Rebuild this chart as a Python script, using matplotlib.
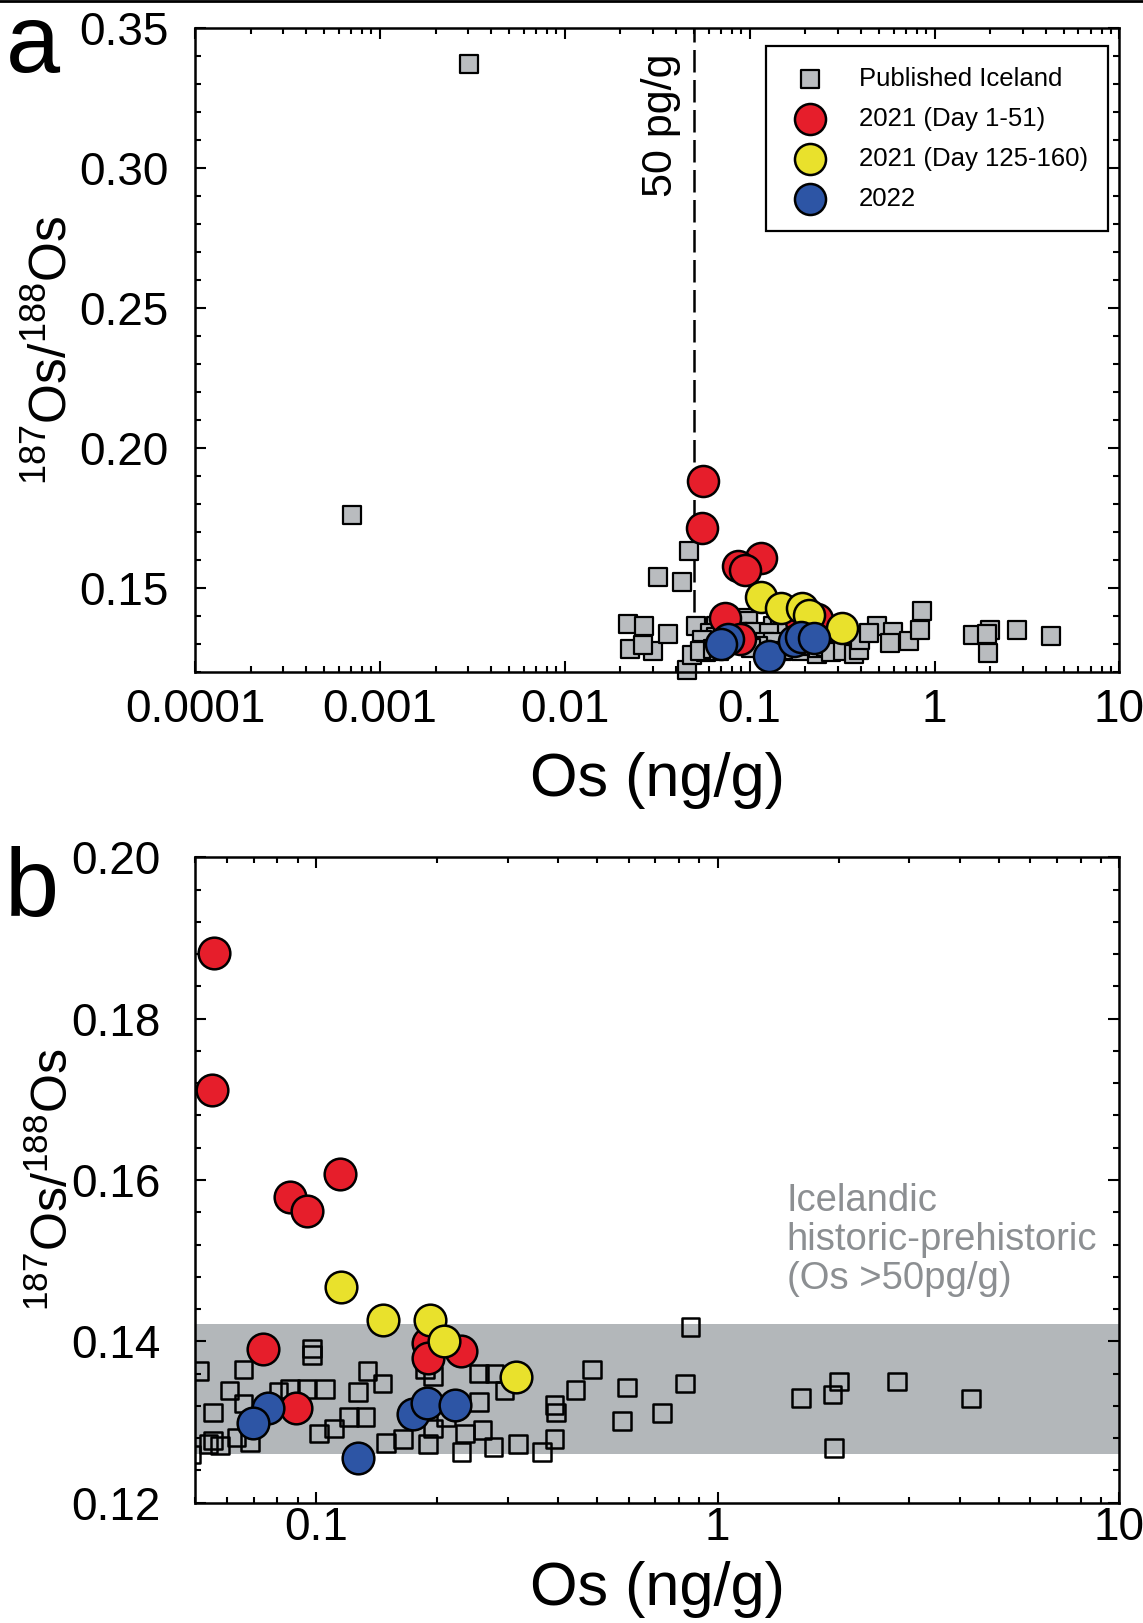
import matplotlib
matplotlib.use("Agg")
import matplotlib.pyplot as plt
from matplotlib.ticker import MultipleLocator, LogLocator, FixedLocator, FixedFormatter, NullFormatter

plt.rcParams['font.family'] = ['Liberation Sans', 'DejaVu Sans']
plt.rcParams['mathtext.fontset'] = 'custom'
plt.rcParams['mathtext.rm'] = 'Liberation Sans'
plt.rcParams['mathtext.it'] = 'Liberation Sans:italic'

# published Iceland data (Os ng/g, 187Os/188Os)
pub_os = [0.00303, 0.000706, 0.047, 0.0320, 0.0429, 0.0219, 0.0268, 0.0225, 0.0301, 0.0265,
          0.036, 0.046, 0.049,
          0.0513, 0.066, 0.0979, 0.0979, 0.1344, 0.1465, 0.0609, 0.066, 0.0554, 0.0862,
          0.0948, 0.1053, 0.1274, 0.0806, 0.1208, 0.1329, 0.111, 0.1019, 0.0554, 0.0577,
          0.0540, 0.0635, 0.0686, 0.1493, 0.1648, 0.1903, 0.1957, 0.1957, 0.1866, 0.2303,
          0.2348, 0.2598, 0.2548, 0.2548, 0.2786, 0.2769, 0.318, 0.3657, 0.3925, 0.3925,
          0.396, 0.2948, 0.211, 0.4873, 0.443, 0.594, 0.577, 0.727, 0.830, 0.855,
          1.612, 2.006, 1.93, 1.95, 2.79, 4.27]
pub_ratio = [0.337, 0.1761, 0.1631, 0.1537, 0.1521, 0.1370, 0.1364, 0.1281, 0.1275, 0.1295,
             0.1334, 0.1207, 0.126,
             0.1363, 0.1365, 0.1391, 0.1383, 0.1363, 0.1348, 0.1339, 0.1323, 0.1312, 0.1341,
             0.1341, 0.1341, 0.1337, 0.1337, 0.1306, 0.1306, 0.1292, 0.1286, 0.1277, 0.1271,
             0.1273, 0.1281, 0.1275, 0.1274, 0.1279, 0.1273, 0.1292, 0.1357, 0.1365, 0.1263,
             0.1286, 0.1290, 0.1325, 0.1360, 0.1360, 0.1269, 0.1273, 0.1263, 0.1279, 0.1321,
             0.1312, 0.1339, 0.1306, 0.1365, 0.1340, 0.1343, 0.1301, 0.1311, 0.1348, 0.1418,
             0.1330, 0.1350, 0.1334, 0.1268, 0.1350, 0.1329]

# 2021 (Day 1-51)
red_os = [0.0559, 0.0552, 0.1147, 0.0862, 0.0948, 0.0740, 0.190, 0.190, 0.2303, 0.0892]
red_ratio = [0.1881, 0.1712, 0.1608, 0.1579, 0.1562, 0.1391, 0.1398, 0.1380, 0.1388, 0.1317]

# 2021 (Day 125-160)
yel_os = [0.1154, 0.147, 0.192, 0.2085, 0.3155]
yel_ratio = [0.1467, 0.1427, 0.1427, 0.1401, 0.1356]

# 2022
blue_os = [0.0761, 0.0697, 0.127, 0.174, 0.189, 0.2225]
blue_ratio = [0.1317, 0.1299, 0.1256, 0.1310, 0.1323, 0.1321]

RED = '#e61e2b'
YEL = '#e9e12c'
BLUE = '#2d55a5'
GRAY = '#b9bcbf'
BAND = '#b3b7ba'

ylab = r'$\mathregular{^{187}Os/^{188}Os}$'


def style(ax):
    for sp in ax.spines.values():
        sp.set_linewidth(1.8)
    ax.tick_params(which='both', direction='in', top=True, right=True, width=1.5, labelsize=33)
    ax.tick_params(which='major', length=8)
    ax.tick_params(which='minor', length=4.5)


fig = plt.figure(figsize=(11.43, 16.23), dpi=100)
fig.add_artist(plt.Line2D([0, 1], [0.9992, 0.9992], transform=fig.transFigure, color='black', lw=2))

# ---- panel a
ax1 = fig.add_axes([0.1706, 0.5861, 0.8088, 0.3968])
ax1.set_xscale('log')
ax1.set_xlim(1e-4, 10)
ax1.set_ylim(0.12, 0.35)
ax1.axvline(0.05, color='black', lw=1.8, ls=(0, (9, 3)), zorder=1)
ax1.text(0.033, 0.3153, '50 pg/g', rotation=90, ha='center', va='center', fontsize=31)
h_pub = ax1.scatter(pub_os, pub_ratio, marker='s', s=150, facecolor=GRAY, edgecolor='black',
                    lw=1.6, zorder=2, clip_on=False, label='Published Iceland')
h_red = ax1.scatter(red_os, red_ratio, marker='o', s=500, facecolor=RED, edgecolor='black',
                    lw=1.8, zorder=3, label='2021 (Day 1-51)')
h_yel = ax1.scatter(yel_os, yel_ratio, marker='o', s=500, facecolor=YEL, edgecolor='black',
                    lw=1.8, zorder=4, label='2021 (Day 125-160)')
h_blue = ax1.scatter(blue_os, blue_ratio, marker='o', s=500, facecolor=BLUE, edgecolor='black',
                     lw=1.8, zorder=5, label='2022')
style(ax1)
ax1.xaxis.set_major_locator(FixedLocator([1e-4, 1e-3, 1e-2, 0.1, 1, 10]))
ax1.xaxis.set_major_formatter(FixedFormatter(['0.0001', '0.001', '0.01', '0.1', '1', '10']))
ax1.xaxis.set_minor_locator(LogLocator(base=10, subs=range(2, 10), numticks=50))
ax1.xaxis.set_minor_formatter(NullFormatter())
ax1.yaxis.set_minor_locator(MultipleLocator(0.01))
ax1.set_yticks([0.15, 0.20, 0.25, 0.30, 0.35])
ax1.set_yticklabels(['0.15', '0.20', '0.25', '0.30', '0.35'])
ax1.tick_params(axis='y', pad=19)
ax1.tick_params(axis='x', pad=12)
ax1.set_xlabel('Os (ng/g)', fontsize=44)
ax1.set_ylabel(ylab, fontsize=37)
ax1.xaxis.set_label_coords(0.5, -0.125)
ax1.yaxis.set_label_coords(-0.127, 0.5)

leg = ax1.legend(handles=[h_pub, h_red, h_yel, h_blue], loc='upper right',
                 bbox_to_anchor=(0.988, 0.971), borderaxespad=0, fontsize=18.5,
                 scatterpoints=1, fancybox=False, framealpha=1, edgecolor='black',
                 borderpad=0.8, handlelength=1.8, handletextpad=1.0, labelspacing=0.62)
leg.get_frame().set_linewidth(1.6)

# ---- panel b
ax2 = fig.add_axes([0.1706, 0.0741, 0.8088, 0.3977])
ax2.set_xscale('log')
ax2.set_xlim(0.05, 10)
ax2.set_ylim(0.12, 0.20)
ax2.axhspan(0.1261, 0.1421, color=BAND, lw=0, zorder=0)
ax2.scatter(pub_os, pub_ratio, marker='s', s=160, facecolor='none', edgecolor='black',
            lw=1.8, zorder=2)
ax2.scatter(red_os, red_ratio, marker='o', s=520, facecolor=RED, edgecolor='black', lw=1.8, zorder=3)
ax2.scatter(yel_os, yel_ratio, marker='o', s=520, facecolor=YEL, edgecolor='black', lw=1.8, zorder=4)
ax2.scatter(blue_os, blue_ratio, marker='o', s=520, facecolor=BLUE, edgecolor='black', lw=1.8, zorder=5)
ax2.text(0.640, 0.407, 'Icelandic\nhistoric-prehistoric\n(Os >50pg/g)', transform=ax2.transAxes,
         ha='left', va='center', fontsize=27.5, color='#8c8f92', linespacing=1.1)
style(ax2)
ax2.xaxis.set_major_locator(FixedLocator([0.1, 1, 10]))
ax2.xaxis.set_major_formatter(FixedFormatter(['0.1', '1', '10']))
ax2.xaxis.set_minor_locator(LogLocator(base=10, subs=range(2, 10), numticks=50))
ax2.xaxis.set_minor_formatter(NullFormatter())
ax2.set_yticks([0.12, 0.14, 0.16, 0.18, 0.20])
ax2.set_yticklabels(['0.12', '0.14', '0.16', '0.18', '0.20'])
ax2.yaxis.set_minor_locator(MultipleLocator(0.004))
ax2.tick_params(axis='y', pad=25)
ax2.tick_params(axis='x', pad=2)
ax2.set_xlabel('Os (ng/g)', fontsize=44)
ax2.set_ylabel(ylab, fontsize=36)
ax2.xaxis.set_label_coords(0.5, -0.09)
ax2.yaxis.set_label_coords(-0.127, 0.5)

fig.text(6 / 1143, 1 - 72 / 1623, 'a', fontsize=70, va='baseline', ha='left')
fig.text(5 / 1143, 1 - 916 / 1623, 'b', fontsize=70, va='baseline', ha='left')

fig.savefig('out.png', dpi=100)
